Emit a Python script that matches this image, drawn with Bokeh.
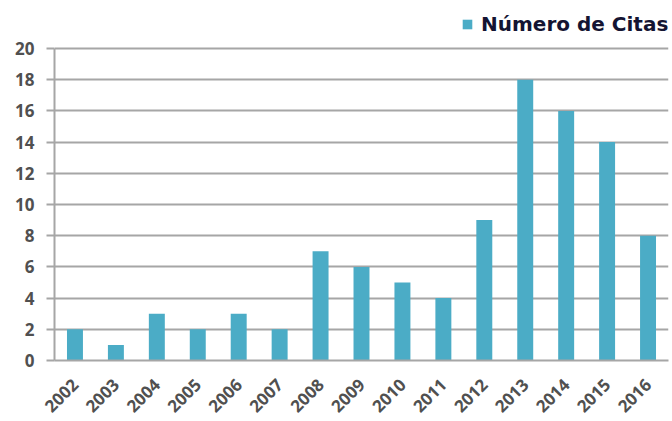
from bokeh.plotting import figure
from bokeh.models import ColumnDataSource, Legend, LegendItem, FactorRange, FixedTicker, Range1d
from bokeh.embed import file_html
from bokeh.resources import INLINE
import math

years = ["2002", "2003", "2004", "2005", "2006", "2007", "2008", "2009",
         "2010", "2011", "2012", "2013", "2014", "2015", "2016"]
citas = [2, 1, 3, 2, 3, 2, 7, 6, 5, 4, 9, 18, 16, 14, 8]
y_ticks = list(range(0, 21, 2))
series_name = "Número de Citas"

src = ColumnDataSource(dict(year=years, citas=citas))

# frame: top at 1px, bottom at 360px; value 20 sits at 48px
p = figure(width=672, height=421, x_range=FactorRange(*years), y_range=Range1d(0, 23.013),
           output_backend="svg", toolbar_location=None,
           min_border_left=54, min_border_right=4, min_border_top=1, min_border_bottom=61)
p.outline_line_color = None
p.background_fill_color = "white"
p.border_fill_color = "white"

r = p.vbar(x="year", top="citas", width=0.39, source=src, color="#4BACC6", line_color=None)

p.x_range.range_padding = 0
p.yaxis.ticker = FixedTicker(ticks=y_ticks)
p.yaxis.bounds = (0, 20)
p.ygrid.grid_line_color = "#A6A6A6"
p.ygrid.grid_line_width = 2
p.xgrid.grid_line_color = None

for ax in (p.xaxis, p.yaxis):
    ax.axis_line_color = "#A6A6A6"
    ax.axis_line_width = 2
    ax.major_label_text_font = "Open Sans"
    ax.major_label_text_font_size = "17px"
    ax.major_label_text_color = "#505050"
    ax.major_label_text_font_style = "bold"

p.yaxis.major_tick_line_color = "#A6A6A6"
p.yaxis.major_tick_line_width = 2
p.yaxis.major_tick_out = 8
p.yaxis.major_tick_in = 0
p.yaxis.minor_tick_line_color = None
p.yaxis.major_label_standoff = 12

p.xaxis.major_tick_line_color = None
p.xaxis.minor_tick_line_color = None
p.xaxis.major_label_orientation = math.pi / 4
p.xaxis.major_label_standoff = 15

legend = Legend(items=[LegendItem(label=series_name, renderers=[r])],
                location=(407, 324), orientation="horizontal",
                label_text_font="DejaVu Sans", label_text_font_style="bold",
                label_text_font_size="20px", label_text_color="#141432",
                glyph_width=12, glyph_height=12, label_standoff=8,
                background_fill_alpha=0, border_line_color=None,
                padding=0, margin=0, label_height=20)
p.add_layout(legend, "center")

open("out.html", "w").write(file_html(p, INLINE))
